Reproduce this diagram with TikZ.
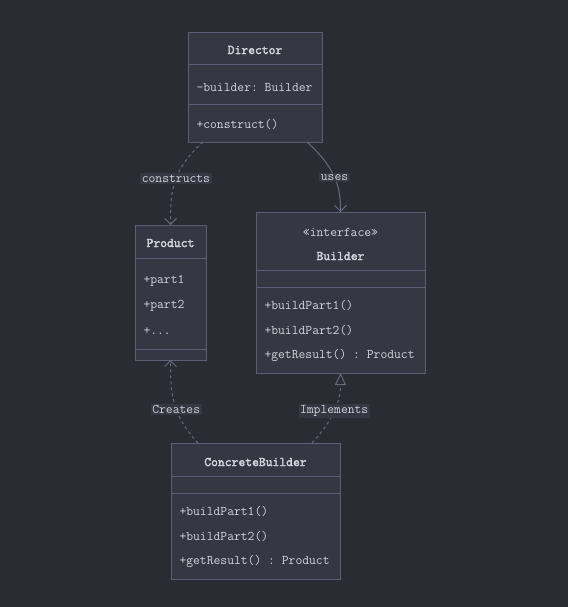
\documentclass[tikz,border=0pt]{standalone}
\usepackage{fontspec}
\setmonofont{Latin Modern Mono}[AutoFakeBold=2.5]
\usetikzlibrary{arrows.meta}

\definecolor{bgcol}{HTML}{2A2C34}
\definecolor{boxfill}{HTML}{353842}
\definecolor{boxline}{HTML}{5A5F76}
\definecolor{edgecol}{HTML}{656A82}
\definecolor{txtcol}{HTML}{D2D5DC}

\begin{document}
\begin{tikzpicture}[x=1bp, y=-1bp, line width=1bp,
    box/.style = {draw=boxline, fill=boxfill, anchor=north west, inner sep=0pt},
    sep/.style = {draw=boxline},
    txt/.style = {text=txtcol, inner sep=0pt, font=\ttfamily\fontsize{13.3}{15}\selectfont},
    item/.style = {txt, anchor=west},
    title/.style = {txt, font=\ttfamily\bfseries\fontsize{13.3}{15}\selectfont},
    lbl/.style = {txt, fill=boxfill, inner sep=1.5bp},
    edge/.style = {draw=edgecol, -{Straight Barb[length=6bp, width=12bp]}},
    dep/.style = {edge, dash pattern=on 3bp off 3bp},
    real/.style = {draw=edgecol, dash pattern=on 3bp off 3bp,
        -{Triangle[open, length=12bp, width=11bp, fill=bgcol]}}]

    \fill[bgcol] (0,0) rectangle (568,607);
    \useasboundingbox (0,0) rectangle (568,607);

    % Director
    \node[box, minimum width=134bp, minimum height=110bp] (director) at (188,32) {};
    \draw[sep] (188,65) -- (322,65);
    \draw[sep] (188,105) -- (322,105);
    \node[title] (directorT) at (255,50) {Director};
    \node[item] (directorA) at (196,87) {-builder: Builder};
    \node[item] (directorM) at (196,124) {+construct()};

    % Product
    \node[box, minimum width=71bp, minimum height=135bp] (product) at (135,225) {};
    \draw[sep] (135,258) -- (206,258);
    \draw[sep] (135,349) -- (206,349);
    \node[title] (productT) at (170.5,243) {Product};
    \node[item] (productA) at (143,281) {+part1};
    \node[item] (productB) at (143,306) {+part2};
    \node[item] (productC) at (143,331) {+...};

    % Builder
    \node[box, minimum width=169bp, minimum height=161bp] (builder) at (256,212) {};
    \draw[sep] (256,270) -- (425,270);
    \draw[sep] (256,287) -- (425,287);
    \node[txt] (builderS) at (340.5,232) {«interface»};
    \node[title] (builderT) at (340.5,256) {Builder};
    \node[item] (builderA) at (264,305) {+buildPart1()};
    \node[item] (builderB) at (264,330) {+buildPart2()};
    \node[item] (builderC) at (264,355) {+getResult() : Product};

    % ConcreteBuilder
    \node[box, minimum width=169bp, minimum height=136bp] (concrete) at (171,443) {};
    \draw[sep] (171,476) -- (340,476);
    \draw[sep] (171,493) -- (340,493);
    \node[title] (concreteT) at (255.5,462) {ConcreteBuilder};
    \node[item] (concreteA) at (179,511) {+buildPart1()};
    \node[item] (concreteB) at (179,536) {+buildPart2()};
    \node[item] (concreteC) at (179,561) {+getResult() : Product};

    % connectors
    \coordinate (d1) at (203,142);
    \coordinate (d2) at (307,142);
    \coordinate (p1) at (170.5,225);
    \coordinate (p2) at (170.5,360);
    \coordinate (b1) at (340.5,212);
    \coordinate (b2) at (340.5,373);
    \coordinate (c1) at (198,443);
    \coordinate (c2) at (312,443);

    \draw[dep] (d1) .. controls (172,170) and (170.5,190) .. node[lbl, pos=0.47] {constructs} (p1);
    \draw[edge] (d2) .. controls (338,170) and (340.5,190) .. node[lbl, pos=0.47] {uses} (b1);
    \draw[dep] (c1) .. controls (172,415) and (170.5,395) .. node[lbl, pos=0.43] {Creates} (p2);
    \draw[real] (c2) .. controls (338,415) and (340.5,395) .. node[lbl, pos=0.43] {Implements} (b2);
\end{tikzpicture}
\end{document}
